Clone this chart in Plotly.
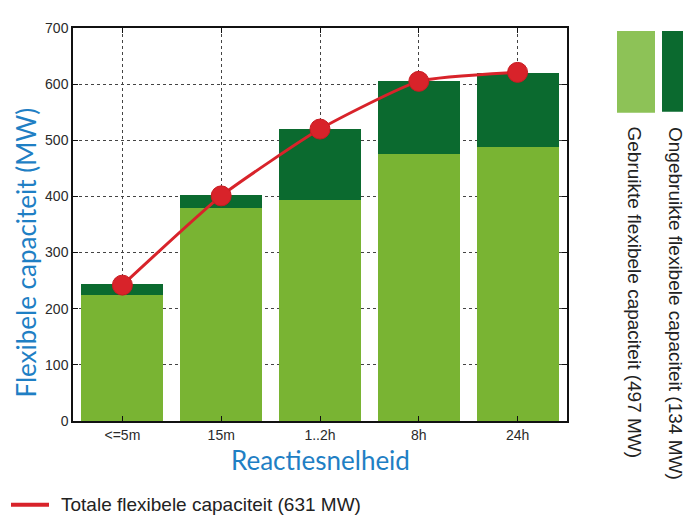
import plotly.graph_objects as go

categories = ["<=5m", "15m", "1..2h", "8h", "24h"]
used = [224, 379, 393, 475, 488]          # Gebruikte flexibele capaciteit
total_bar = [244, 402, 521, 606, 619]     # top of stacked bar
total_line = [242, 401, 520, 605, 621]    # Totale flexibele capaciteit (line)
unused = [t - u for t, u in zip(total_bar, used)]

y_ticks = [0, 100, 200, 300, 400, 500, 600, 700]

legend_used = "Gebruikte flexibele capaciteit (497 MW)"
legend_unused = "Ongebruikte flexibele capaciteit (134 MW)"
legend_total = "Totale flexibele capaciteit (631 MW)"
x_title = "Reactiesnelheid"
y_title = "Flexibele capaciteit (MW)"

# page pixel geometry (the page body adds an 8px margin around the figure)
PAGE_W, PAGE_H, OFF = 691, 517, 8
L, R, T, B = 73, 567, 22, 421

LIGHT = "#79b433"
DARK = "#0b6a2f"
RED = "#d8232a"
BLUE = "#1f7fc4"


def px(x):
    return (x - L) / (R - L)


def py(y):
    return (B - y) / (B - T)


fig = go.Figure()
fig.add_trace(go.Bar(x=categories, y=used, marker=dict(color=LIGHT, line=dict(width=0)),
                     width=0.83, name=legend_used, showlegend=False))
fig.add_trace(go.Bar(x=categories, y=unused, marker=dict(color=DARK, line=dict(width=0)),
                     width=0.83, name=legend_unused, showlegend=False))
fig.add_trace(go.Scatter(x=categories, y=total_line, mode="lines+markers",
                         line=dict(color=RED, width=3, shape="spline", smoothing=0.5),
                         marker=dict(color=RED, size=20, line=dict(color="#c81c22", width=1)),
                         name=legend_total, showlegend=False))

axis_common = dict(showline=True, linecolor="#111", linewidth=1.5, mirror="ticks",
                   showgrid=True, gridcolor="#444", griddash="dot", gridwidth=1,
                   ticks="inside", ticklen=5, tickcolor="#111",
                   tickfont=dict(family="Liberation Sans", size=14, color="#2a2a2a"),
                   zeroline=False)

fig.update_layout(
    width=PAGE_W - OFF, height=PAGE_H - OFF,
    margin=dict(l=L - OFF, r=PAGE_W - R, t=T - OFF, b=PAGE_H - B, pad=0),
    paper_bgcolor="white", plot_bgcolor="white",
    barmode="stack",
    xaxis=dict(range=[-0.5, 4.5], **axis_common),
    yaxis=dict(range=[0, 700], tickvals=y_ticks, **axis_common),
    showlegend=False,
)

shapes = [
    dict(type="rect", xref="paper", yref="paper", x0=px(617), x1=px(655), y0=py(108), y1=py(25),
         fillcolor="#8dc257", line=dict(width=0)),
    dict(type="rect", xref="paper", yref="paper", x0=px(662), x1=px(691), y0=py(107), y1=py(25),
         fillcolor=DARK, line=dict(width=0)),
    dict(type="line", xref="paper", yref="paper", x0=px(11), x1=px(49), y0=py(506), y1=py(506),
         line=dict(color=RED, width=4)),
]
fig.update_layout(shapes=shapes)

annotations = [
    dict(text=legend_unused, xref="paper", yref="paper", x=px(676), y=py(120),
         xanchor="center", yanchor="top", textangle=90, showarrow=False,
         font=dict(family="Liberation Sans", size=19, color="#222")),
    dict(text=legend_used, xref="paper", yref="paper", x=px(634), y=py(120),
         xanchor="center", yanchor="top", textangle=90, showarrow=False,
         font=dict(family="Liberation Sans", size=19, color="#222")),
    dict(text=legend_total, xref="paper", yref="paper", x=px(59), y=py(506),
         xanchor="left", yanchor="middle", showarrow=False,
         font=dict(family="Liberation Sans", size=19, color="#222")),
    dict(text=x_title, xref="paper", yref="paper", x=px(320), y=py(461),
         xanchor="center", yanchor="middle", showarrow=False,
         font=dict(family="Lato", size=26, color=BLUE)),
    dict(text=y_title, xref="paper", yref="paper", x=px(26), y=py(250),
         xanchor="center", yanchor="middle", textangle=-90, showarrow=False,
         font=dict(family="Lato", size=26, color=BLUE)),
]
fig.update_layout(annotations=annotations)

fig.write_html("out.html")
